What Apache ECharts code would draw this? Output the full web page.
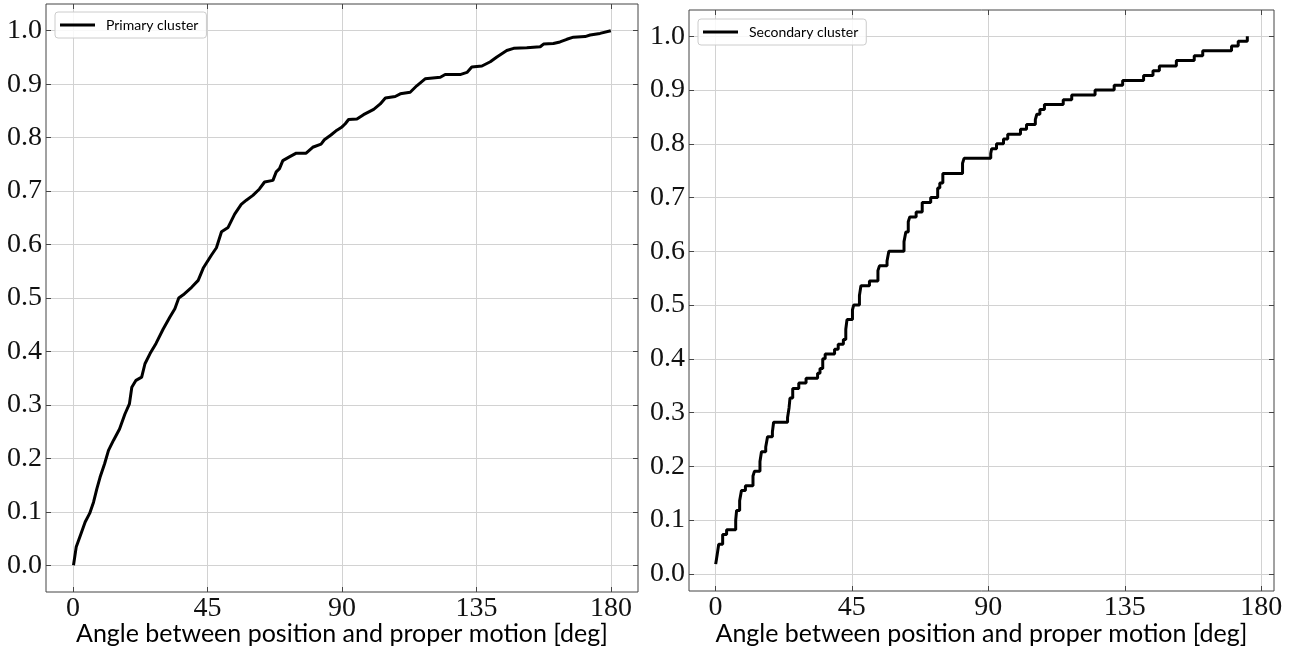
<!DOCTYPE html>
<html><head><meta charset="utf-8">
<script src="https://cdn.jsdelivr.net/npm/echarts@6/dist/echarts.min.js"></script>
<style>html,body{margin:0;padding:0;background:#fff}#c{width:1296px;height:657px}</style>
</head><body><div id="c"></div>
<script>
const xTicks = [0, 45, 90, 135, 180];
const yTicks = [0, 0.1, 0.2, 0.3, 0.4, 0.5, 0.6, 0.7, 0.8, 0.9, 1.0];
const seriesNames = ['Primary cluster', 'Secondary cluster'];
const axisTitle = 'Angle between position and proper motion [deg]';

const primaryAngle = [0.2,1.1,2.7,4.1,5.6,6.9,8.0,9.1,10.6,11.9,13.6,15.6,17.4,18.9,19.7,21.1,23.0,24.1,25.8,27.8,30.2,32.4,34.1,35.4,36.9,39.7,41.9,43.6,46.3,48.0,49.7,51.9,54.1,56.3,58.0,60.2,62.4,64.1,66.9,68.0,69.1,70.2,72.4,74.7,78.0,80.2,83.0,84.1,86.3,88.3,90.0,91.1,92.2,95.0,97.2,100.6,102.8,104.5,107.8,109.5,112.8,115.0,117.8,122.9,124.5,129.5,131.8,133.4,136.8,139.6,141.8,145.1,147.4,151.8,156.3,157.4,160.7,162.9,165.2,167.4,171.3,173.0,176.3,179.9];
const primaryCdf = [0.0,0.034,0.059,0.081,0.097,0.118,0.143,0.165,0.19,0.215,0.234,0.255,0.283,0.302,0.333,0.346,0.352,0.377,0.396,0.415,0.442,0.464,0.48,0.5,0.506,0.52,0.533,0.556,0.58,0.594,0.624,0.632,0.657,0.675,0.683,0.692,0.704,0.717,0.72,0.736,0.742,0.757,0.764,0.771,0.771,0.782,0.788,0.796,0.805,0.814,0.82,0.826,0.834,0.835,0.843,0.853,0.863,0.874,0.877,0.882,0.885,0.897,0.91,0.913,0.918,0.918,0.922,0.932,0.934,0.942,0.951,0.963,0.967,0.968,0.97,0.975,0.976,0.979,0.984,0.988,0.989,0.992,0.995,1.0];

const secondaryAngle = [0.1,0.6,1.1,2.4,3.7,6.7,7.0,8.0,8.6,9.9,12.4,12.9,14.7,15.2,16.6,17.2,18.8,19.2,23.8,24.3,24.6,25.5,27.5,29.9,33.7,34.5,35.4,36.2,39.3,40.5,42.2,43.0,43.4,45.2,45.6,47.5,48.0,50.8,53.6,54.1,56.6,57.2,62.2,62.8,63.6,64.1,66.2,68.2,71.0,73.3,74.0,75.0,81.5,82.0,90.8,91.1,92.7,95.0,96.4,100.6,102.6,105.5,106.0,107.0,108.5,114.7,117.5,125.2,131.5,134.3,141.2,144.3,146.4,152.0,157.9,160.7,170.2,172.4,175.4];
const secondaryCdf = [0.018,0.036,0.055,0.073,0.082,0.100,0.118,0.136,0.155,0.164,0.182,0.191,0.209,0.227,0.236,0.255,0.264,0.282,0.291,0.309,0.327,0.345,0.355,0.364,0.373,0.382,0.400,0.409,0.418,0.427,0.436,0.455,0.473,0.491,0.500,0.518,0.536,0.545,0.564,0.573,0.582,0.600,0.618,0.636,0.655,0.664,0.673,0.691,0.700,0.718,0.727,0.745,0.764,0.773,0.782,0.791,0.800,0.809,0.818,0.827,0.836,0.845,0.855,0.864,0.873,0.882,0.891,0.900,0.909,0.918,0.927,0.936,0.945,0.955,0.964,0.973,0.982,0.991,1.000];

const panels = [
  {left:46, top:4, width:592, height:588, xmin:-9, xmax:189, ymin:-0.05, ymax:1.05, legendLeft:55, legendTop:12},
  {left:689, top:10, width:585, height:581, xmin:-8.7, xmax:184.2, ymin:-0.032, ymax:1.049, legendLeft:698, legendTop:19}
];

const serif = "'Liberation Serif', 'DejaVu Serif', serif";
const sans = "Lato, 'Open Sans', sans-serif";
const frameColor = '#454545';
const gridColor = '#d2d2d2';

const grids = [], xAxes = [], yAxes = [], legends = [], graphics = [];
panels.forEach((p, i) => {
  grids.push({left:p.left, top:p.top, width:p.width, height:p.height, show:true, borderColor:frameColor, borderWidth:1, backgroundColor:'transparent', containLabel:false});
  const tickBase = {show:true, inside:true, length:5, lineStyle:{color:frameColor, width:1}};
  const noLine = {show:false, onZero:false};
  xAxes.push({type:'value', gridIndex:i, position:'bottom', min:p.xmin, max:p.xmax,
    axisLine:noLine,
    axisTick:Object.assign({customValues:xTicks}, tickBase),
    axisLabel:{customValues:xTicks, margin:3, fontFamily:serif, fontSize:28, color:'#111', formatter:v=>String(v)},
    splitLine:{show:true, lineStyle:{color:gridColor, width:1}}});
  xAxes.push({type:'value', gridIndex:i, position:'top', min:p.xmin, max:p.xmax,
    axisLine:noLine, axisTick:Object.assign({customValues:xTicks}, tickBase),
    axisLabel:{show:false, customValues:xTicks}, splitLine:{show:false}});
  yAxes.push({type:'value', gridIndex:i, position:'left', min:p.ymin, max:p.ymax,
    axisLine:noLine,
    axisTick:Object.assign({customValues:yTicks}, tickBase),
    axisLabel:{customValues:yTicks, margin:4, fontFamily:serif, fontSize:28, color:'#111', formatter:v=>v.toFixed(1)},
    splitLine:{show:true, lineStyle:{color:gridColor, width:1}}});
  yAxes.push({type:'value', gridIndex:i, position:'right', min:p.ymin, max:p.ymax,
    axisLine:noLine, axisTick:Object.assign({customValues:yTicks}, tickBase),
    axisLabel:{show:false, customValues:yTicks}, splitLine:{show:false}});
  legends.push({data:[seriesNames[i]], left:p.legendLeft, top:p.legendTop, icon:'rect', itemWidth:35, itemHeight:3,
    backgroundColor:'rgba(255,255,255,0.85)', borderColor:'#cccccc', borderWidth:1, borderRadius:3,
    padding:[6,8,6,5], selectedMode:false,
    textStyle:{fontFamily:sans, fontSize:14, color:'#000', padding:[0,0,0,6]}});
  graphics.push({type:'text', x:p.left + p.width/2, y:634,
    style:{text:axisTitle, font:'25px ' + sans, fill:'#000', textAlign:'center', textVerticalAlign:'middle'}});
});

function pairs(xs, ys){ return xs.map((x, k) => [x, ys[k]]); }

const chart = echarts.init(document.getElementById('c'), null, {renderer:'canvas'});
chart.setOption({
  animation:false,
  backgroundColor:'#ffffff',
  grid:grids, xAxis:xAxes, yAxis:yAxes, legend:legends, graphic:graphics,
  series:[
    {name:seriesNames[0], type:'line', xAxisIndex:0, yAxisIndex:0, data:pairs(primaryAngle, primaryCdf),
     showSymbol:false, symbol:'none', lineStyle:{color:'#000', width:3}, itemStyle:{color:'#000'}, z:5},
    {name:seriesNames[1], type:'line', xAxisIndex:2, yAxisIndex:2, data:pairs(secondaryAngle, secondaryCdf),
     step:'end', showSymbol:false, symbol:'none', lineStyle:{color:'#000', width:3}, itemStyle:{color:'#000'}, z:5}
  ]
});
</script></body></html>
